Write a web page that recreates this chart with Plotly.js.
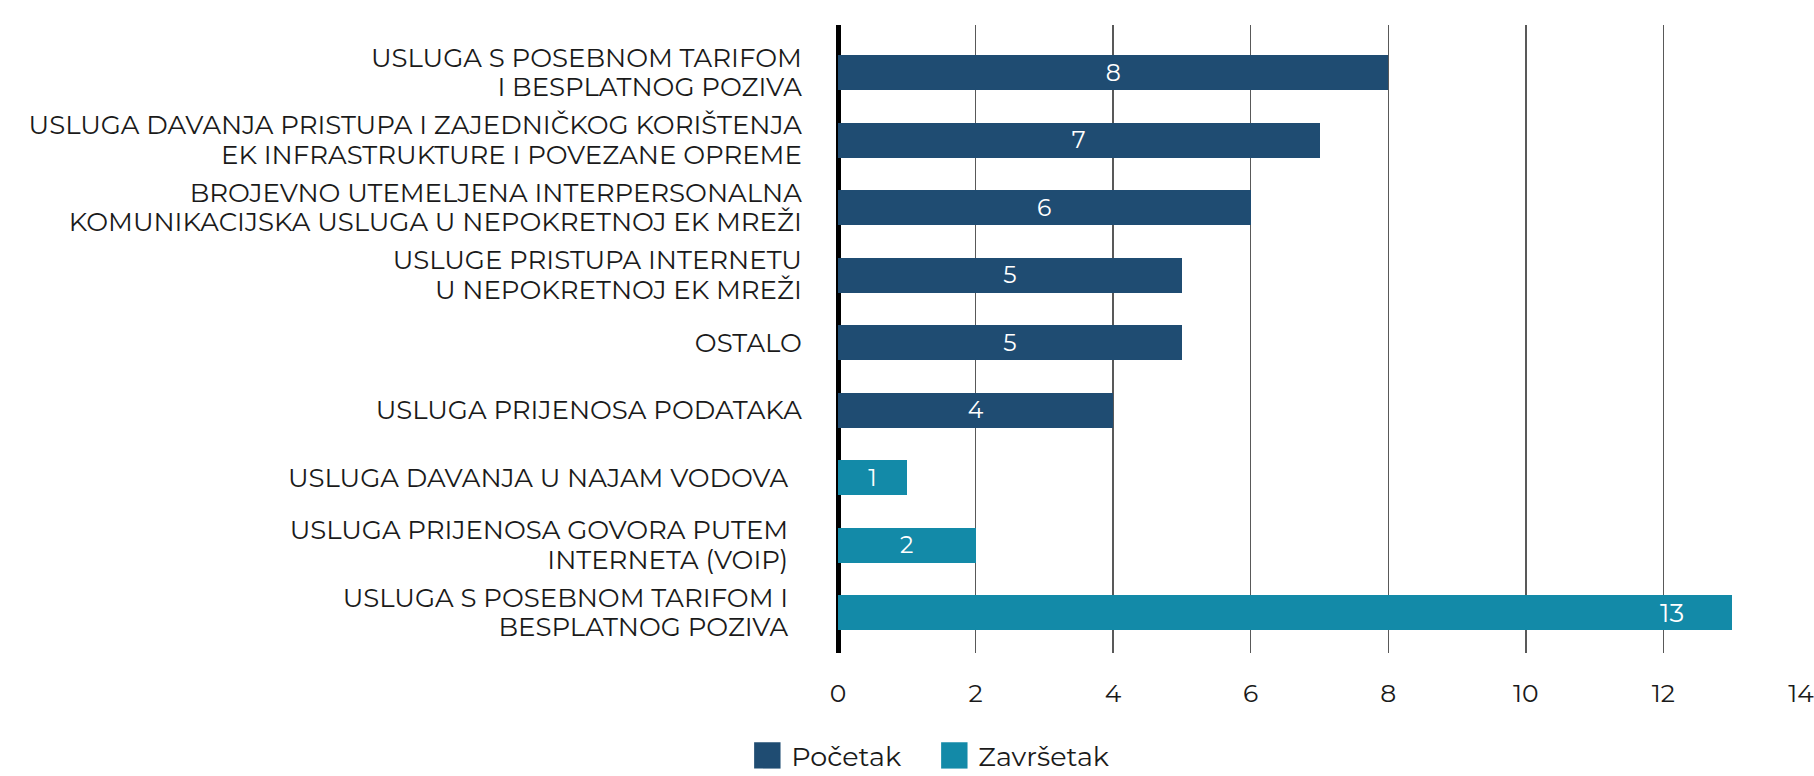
<!DOCTYPE html>
<html>
<head>
<meta charset="utf-8">
<script src="https://cdn.plot.ly/plotly-3.0.1.min.js"></script>
<style>
  html, body { margin: 0; padding: 0; background: #fff; }
  #chart { width: 1814px; height: 776px; }
</style>
</head>
<body>
<div id="chart"></div>
<script>
// Category labels, top to bottom
const categories = [
  "USLUGA S POSEBNOM TARIFOM<br>I BESPLATNOG POZIVA",
  "USLUGA DAVANJA PRISTUPA I ZAJEDNIČKOG KORIŠTENJA<br>EK INFRASTRUKTURE I POVEZANE OPREME",
  "BROJEVNO UTEMELJENA INTERPERSONALNA<br>KOMUNIKACIJSKA USLUGA U NEPOKRETNOJ EK MREŽI",
  "USLUGE PRISTUPA INTERNETU<br>U NEPOKRETNOJ EK MREŽI",
  "OSTALO",
  "USLUGA PRIJENOSA PODATAKA",
  "USLUGA DAVANJA U NAJAM VODOVA\u00a0\u00a0",
  "USLUGA PRIJENOSA GOVORA PUTEM\u00a0\u00a0<br>INTERNETA (VOIP)\u00a0\u00a0",
  "USLUGA S POSEBNOM TARIFOM I\u00a0\u00a0<br>BESPLATNOG POZIVA\u00a0\u00a0"
];
const seriesNames = ["Početak", "Završetak"];
const pocetak   = [8, 7, 6, 5, 5, 4, null, null, null];
const zavrsetak = [null, null, null, null, null, null, 1, 2, 13];
const xTicks = [0, 2, 4, 6, 8, 10, 12, 14];

const FONT = "Montserrat, 'Open Sans', sans-serif";
const colors = ["#1f4c72", "#138aa8"];

// labels drawn centred inside the bars, except the long last bar (label near its end)
const endLabelIdx = zavrsetak.length - 1;
const txt = (arr, skip) => arr.map((v, i) => (v == null || i === skip) ? "" : String(v));

const traces = [
  {
    type: "bar", orientation: "h", name: seriesNames[0],
    x: pocetak, y: categories,
    marker: { color: colors[0] },
    text: txt(pocetak, -1), textposition: "inside", insidetextanchor: "middle", textangle: 0,
    textfont: { color: "#ffffff", size: 26, family: FONT },
    hoverinfo: "x+y"
  },
  {
    type: "bar", orientation: "h", name: seriesNames[1],
    x: zavrsetak, y: categories,
    marker: { color: colors[1] },
    text: txt(zavrsetak, endLabelIdx), textposition: "inside", insidetextanchor: "middle", textangle: 0,
    textfont: { color: "#ffffff", size: 26, family: FONT },
    hoverinfo: "x+y"
  }
];

const layout = {
  width: 1814, height: 776,
  margin: { l: 838, r: 13, t: 25, b: 123, pad: 0 },
  paper_bgcolor: "#ffffff", plot_bgcolor: "#ffffff",
  barmode: "stack", bargap: 0.4815,
  font: { family: FONT, size: 26, color: "#1a1a1a" },
  showlegend: true,
  legend: {
    orientation: "h", x: -0.090, xanchor: "left",
    yref: "container", y: 0.026, yanchor: "middle",
    font: { size: 27, family: FONT, color: "#1a1a1a" },
    traceorder: "normal", itemwidth: 30, entrywidth: 142, entrywidthmode: "pixels"
  },
  xaxis: {
    range: [0, 14], tickvals: xTicks, ticktext: xTicks.map(String),
    showgrid: true, gridcolor: "#595959", gridwidth: 1.3,
    zeroline: true, zerolinecolor: "#000000", zerolinewidth: 5,
    showline: false, ticks: "outside", ticklen: 18, tickcolor: "rgba(0,0,0,0)",
    ticklabeloverflow: "allow",
    tickfont: { size: 25, family: FONT, color: "#1a1a1a" }, fixedrange: true
  },
  yaxis: {
    type: "category", range: [8.6, -0.704],
    showgrid: false, zeroline: false, showline: false,
    ticks: "outside", ticklen: 30, tickcolor: "rgba(0,0,0,0)",
    tickfont: { size: 26, family: FONT, color: "#1a1a1a" }, fixedrange: true
  },
  annotations: [
    {
      x: zavrsetak[endLabelIdx], y: categories[endLabelIdx], xref: "x", yref: "y",
      text: String(zavrsetak[endLabelIdx]), showarrow: false,
      xanchor: "center", yanchor: "middle", xshift: -60,
      font: { color: "#ffffff", size: 26, family: FONT }
    }
  ]
};

Plotly.newPlot("chart", traces, layout, { staticPlot: true, displayModeBar: false }).then(gd => {
  // enlarge legend swatches to match the big square keys
  gd.querySelectorAll(".legend .legendpoints path").forEach(p => {
    p.setAttribute("transform", "translate(16,0) scale(2.2)");
  });
  // tighter line spacing for the multi-line category labels
  const NEW = 1.13, OLD = 1.3;
  gd.querySelectorAll(".ytick text").forEach(t => {
    const lines = t.querySelectorAll("tspan.line");
    const n = lines.length;
    if (n < 2) return;
    const shift = (n - 1) * (OLD - NEW) / 2;
    lines.forEach((ln, k) => ln.setAttribute("dy", (shift + k * NEW) + "em"));
  });
});
</script>
</body>
</html>
